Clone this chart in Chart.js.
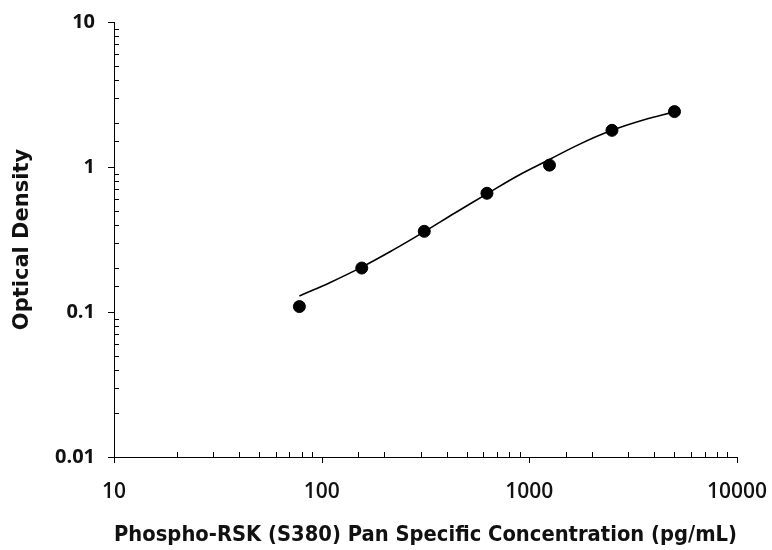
<!DOCTYPE html>
<html>
<head>
<meta charset="utf-8">
<script src="https://cdn.jsdelivr.net/npm/chart.js@4"></script>
<style>
  html, body { margin: 0; padding: 0; background: #fff; }
  #wrap { width: 772px; height: 550px; }
</style>
</head>
<body>
<div id="wrap"><canvas id="myChart" width="772" height="550"></canvas></div>
<script>
// measured standards
const concentrations = [78.1, 156, 312, 625, 1250, 2500, 5000];
const opticalDensity = [0.109, 0.201, 0.360, 0.659, 1.03, 1.79, 2.41];

// fitted curve
const fitX = [78.1, 110, 156, 220, 312, 440, 625, 880, 1250, 1770, 2500, 3540, 5000];
const fitY = [0.129, 0.160, 0.204, 0.267, 0.358, 0.484, 0.653, 0.871, 1.127, 1.45, 1.79, 2.11, 2.40];

const xTicks = [10, 100, 1000, 10000];
const yTicks = [0.01, 0.1, 1, 10];

const xTitle = 'Phospho-RSK (S380) Pan Specific Concentration (pg/mL)';
const yTitle = 'Optical Density';

const isMajor = v => Math.abs(Math.log10(v) - Math.round(Math.log10(v))) < 1e-6;

// major ticks point outward, minor ticks point into the plot
const tickMarks = {
  id: 'tickMarks',
  afterDraw(chart) {
    const ctx = chart.ctx;
    const xs = chart.scales.x, ys = chart.scales.y;
    ctx.save();
    ctx.strokeStyle = '#000';
    ctx.lineWidth = 1;
    ctx.beginPath();
    xs.ticks.forEach(t => {
      const px = Math.round(xs.getPixelForValue(t.value)) + 0.5;
      if (isMajor(t.value)) { ctx.moveTo(px, ys.bottom); ctx.lineTo(px, ys.bottom + 6); }
      else { ctx.moveTo(px, ys.bottom); ctx.lineTo(px, ys.bottom - 5); }
    });
    ys.ticks.forEach(t => {
      const py = Math.round(ys.getPixelForValue(t.value)) + 0.5;
      if (isMajor(t.value)) { ctx.moveTo(xs.left, py); ctx.lineTo(xs.left - 6, py); }
      else { ctx.moveTo(xs.left, py); ctx.lineTo(xs.left + 5, py); }
    });
    ctx.stroke();
    ctx.restore();
  }
};

const data = {
  datasets: [
    {
      label: 'fit',
      data: fitX.map((x, i) => ({ x: x, y: fitY[i] })),
      showLine: true,
      borderColor: '#000',
      borderWidth: 1.6,
      pointRadius: 0,
      tension: 0.4,
      fill: false,
    },
    {
      label: 'standards',
      data: concentrations.map((x, i) => ({ x: x, y: opticalDensity[i] })),
      backgroundColor: '#000',
      borderColor: '#000',
      pointRadius: 6,
      showLine: false,
    }
  ]
};

const config = {
  type: 'scatter',
  data: data,
  options: {
    responsive: false,
    animation: false,
    layout: { padding: { top: 22, right: 35, left: 0, bottom: 0 } },
    plugins: { legend: { display: false }, tooltip: { enabled: false } },
    scales: {
      x: {
        type: 'logarithmic',
        min: 10,
        max: 10000,
        grid: { display: false, drawTicks: false },
        border: { display: true, color: '#000', width: 1 },
        ticks: {
          color: '#111',
          padding: 22,
          maxRotation: 0,
          autoSkip: false,
          font: { family: 'Open Sans', size: 21, weight: '600' },
          callback: v => xTicks.includes(v) ? String(v) : ''
        },
        title: {
          display: true,
          text: xTitle,
          color: '#111',
          padding: { top: 0, bottom: 2 },
          font: { family: 'DejaVu Sans', size: 22, weight: 'bold' }
        },
        afterFit: s => { s.height = 93; s.paddingLeft = 0; s.paddingRight = 0; }
      },
      y: {
        type: 'logarithmic',
        min: 0.01,
        max: 10,
        grid: { display: false, drawTicks: false },
        border: { display: true, color: '#000', width: 1 },
        ticks: {
          color: '#111',
          padding: 19,
          autoSkip: false,
          font: { family: 'Open Sans', size: 20, weight: 'bold' },
          callback: v => yTicks.includes(v) ? String(v) : ''
        },
        title: {
          display: true,
          text: yTitle,
          color: '#111',
          padding: { top: 10, bottom: 0 },
          font: { family: 'DejaVu Sans', size: 21, weight: 'bold' }
        },
        afterFit: s => { s.width = 114; s.paddingTop = 0; s.paddingBottom = 0; }
      }
    }
  },
  plugins: [tickMarks]
};

var myChart = new Chart(
    document.getElementById('myChart'),
    config
);
</script>
</body>
</html>
